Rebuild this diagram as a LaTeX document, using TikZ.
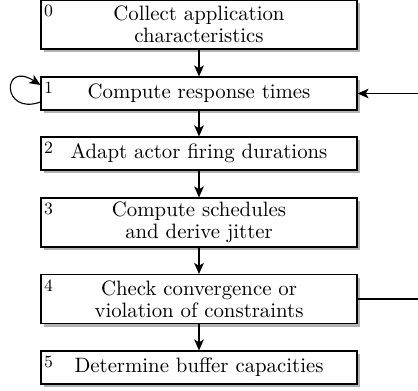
\documentclass[tikz,border=0pt]{standalone}
\usetikzlibrary{arrows.meta,shadows}
\begin{document}
\begin{tikzpicture}[x=0.5pt,y=-0.5pt,
  stepbox/.style={draw,line width=0.55pt,fill=white,
    minimum width=158pt,inner sep=0pt,align=center,
    font=\fontsize{10.4}{11}\selectfont,
    drop shadow={shadow xshift=1.5pt,shadow yshift=-1.5pt,fill=black!30,opacity=1}},
  onebox/.style={stepbox,minimum height=16.5pt},
  twobox/.style={stepbox,minimum height=24.5pt},
  stepno/.style={anchor=north west,inner xsep=1.6pt,inner ysep=2.6pt,font=\fontsize{8.6}{9}\selectfont},
  flow/.style={line width=0.55pt,-{Stealth[length=5.5pt,width=4.8pt,inset=1.4pt]}}]
\useasboundingbox (0,0) rectangle (418,391);
\clip (0,0) rectangle (418,391);

% process steps
\node[twobox] (b0) at (199,24.5) {Collect application\\characteristics};
\node[onebox] (b1) at (199,93.5) {Compute response times};
\node[onebox] (b2) at (199,153.5) {Adapt actor firing durations};
\node[twobox] (b3) at (199,222.5) {Compute schedules\\and derive jitter};
\node[twobox] (b4) at (199,299) {Check convergence or\\violation of constraints};
\node[onebox] (b5) at (199,367.5) {Determine buffer capacities};

% step numbers
\foreach \i in {0,...,5}
  \node[stepno] (n\i) at (b\i.north west) {\i};

% main flow
\draw[flow] (b0) -- (b1);
\draw[flow] (b1) -- (b2);
\draw[flow] (b2) -- (b3);
\draw[flow] (b3) -- (b4);
\draw[flow] (b4) -- (b5);

% iteration back from the convergence check
\coordinate (back) at (440,0);
\draw[flow] (b4.east) -- (b4.east -| back) -- (b1.east -| back) -- (b1.east);

% self loop on step 1
\draw[flow] ([yshift=-4.25pt]b1.west) .. controls +(-39,14) and +(-39,-25) .. ([yshift=4.25pt]b1.west);
\end{tikzpicture}
\end{document}
